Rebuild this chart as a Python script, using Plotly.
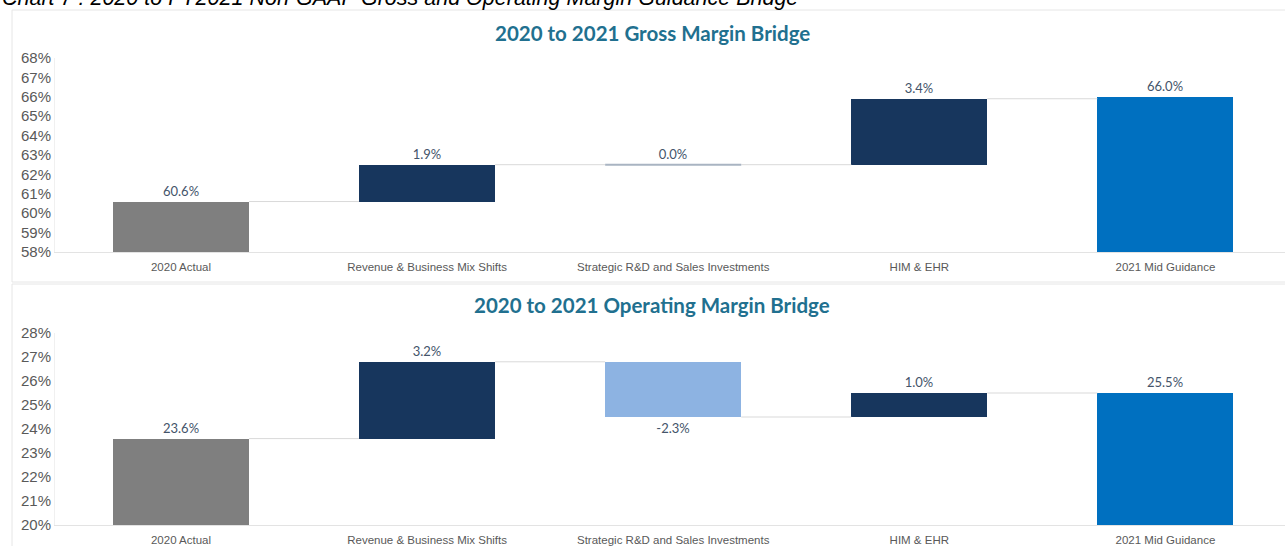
import plotly.graph_objects as go

# ---- data ----
categories = ["2020 Actual", "Revenue & Business Mix Shifts",
              "Strategic R&D and Sales Investments", "HIM & EHR", "2021 Mid Guidance"]
measures = ["absolute", "relative", "relative", "relative", "total"]
gross_values = [60.6, 1.9, 0.0, 3.4, 66.0]
operating_values = [23.6, 3.2, -2.3, 1.0, 25.5]
gross_ticks = [58, 59, 60, 61, 62, 63, 64, 65, 66, 67, 68]
operating_ticks = [20, 21, 22, 23, 24, 25, 26, 27, 28]
gross_title = "2020 to 2021 Gross Margin Bridge"
operating_title = "2020 to 2021 Operating Margin Bridge"
caption = "Chart 7 : 2020 to FY2021 Non-GAAP Gross and Operating Margin Guidance Bridge"

# ---- style ----
W, H = 1285, 546
C_START = "#7F7F7F"
C_UP = "#17365D"
C_DOWN = "#8DB3E2"
C_END = "#0070C0"
C_ZERO = "#A9B4C2"
C_CONN = "#D9D9D9"
LABEL_COLOR = "#44546A"
TICK_COLOR = "#595959"
TITLE_COLOR = "#21708F"
BAR_W = 0.553


def px_y(p):
    return 1 - p / H


def px_x(p):
    return p / W


def build(values, xa, ya):
    traces = []
    bases, heights, colors, texts = [], [], [], []
    level = 0.0
    levels = []
    for m, v in zip(measures, values):
        if m == "absolute":
            bases.append(0)
            colors.append(C_START)
            level = v
        elif m == "relative":
            bases.append(level)
            colors.append(C_UP if v > 0 else C_DOWN)
            level = level + v
        else:
            bases.append(0)
            colors.append(C_END)
            level = v
        heights.append(v)
        texts.append(f"{v:.1f}%")
        levels.append(level)
    xs = list(range(len(values)))
    traces.append(go.Bar(
        x=xs, y=heights, base=bases, width=BAR_W,
        marker=dict(color=colors, line=dict(width=0)),
        text=texts, textposition="outside", cliponaxis=False,
        textfont=dict(family="Lato", size=13, color=LABEL_COLOR),
        xaxis=xa, yaxis=ya, hoverinfo="skip", showlegend=False,
    ))
    # connectors
    cx, cy = [], []
    for i in range(len(values) - 1):
        cx += [i + BAR_W / 2, i + 1 - BAR_W / 2, None]
        cy += [levels[i], levels[i], None]
    traces.append(go.Scatter(x=cx, y=cy, mode="lines",
                             line=dict(color=C_CONN, width=1),
                             xaxis=xa, yaxis=ya, hoverinfo="skip", showlegend=False))
    # zero-height deltas drawn as a thin line
    zx, zy = [], []
    for i, (m, v) in enumerate(zip(measures, values)):
        if m == "relative" and v == 0:
            zx += [i - BAR_W / 2, i + BAR_W / 2, None]
            zy += [levels[i], levels[i], None]
    if zx:
        traces.append(go.Scatter(x=zx, y=zy, mode="lines",
                                 line=dict(color=C_ZERO, width=2),
                                 xaxis=xa, yaxis=ya, hoverinfo="skip", showlegend=False))
    return traces


fig = go.Figure()
for t in build(gross_values, "x", "y"):
    fig.add_trace(t)
for t in build(operating_values, "x2", "y2"):
    fig.add_trace(t)

xrange = [-0.512, 4.486]
xdom = [px_x(55), 1]
common_x = dict(range=xrange, domain=xdom, tickmode="array",
                tickvals=list(range(len(categories))), ticktext=categories,
                showgrid=False, zeroline=False, showline=True, linecolor="#E3E3E3",
                linewidth=1, ticks="", fixedrange=True, automargin=False,
                ticklabelstandoff=4,
                tickfont=dict(family="Liberation Sans", size=11.5, color=TICK_COLOR))
common_y = dict(showgrid=False, zeroline=False, showline=True, linecolor="#F0F0F0",
                ticks="", automargin=False,
                tickfont=dict(family="Liberation Sans", size=15, color=TICK_COLOR),
                tickmode="array")

fig.update_layout(
    width=W, height=H, margin=dict(l=0, r=0, t=0, b=0, autoexpand=False),
    template="none",
    paper_bgcolor="white", plot_bgcolor="white", bargap=0,
    xaxis=dict(anchor="y", **common_x),
    yaxis=dict(anchor="x", range=[58, 68], tickvals=gross_ticks,
               ticktext=[f"{t}%" for t in gross_ticks],
               domain=[px_y(252), px_y(58)], **common_y),
    xaxis2=dict(anchor="y2", **common_x),
    yaxis2=dict(anchor="x2", range=[20, 28], tickvals=operating_ticks,
                ticktext=[f"{t}%" for t in operating_ticks],
                domain=[px_y(525), px_y(333)], **common_y),
    shapes=[
        dict(type="rect", xref="paper", yref="paper", x0=px_x(12), x1=1.01,
             y0=px_y(282), y1=px_y(10), line=dict(color="#E6E6E6", width=1),
             fillcolor="rgba(0,0,0,0)", layer="below"),
        dict(type="rect", xref="paper", yref="paper", x0=px_x(12), x1=1.01,
             y0=-0.01, y1=px_y(284), line=dict(color="#E6E6E6", width=1),
             fillcolor="rgba(0,0,0,0)", layer="below"),
    ],
    annotations=[
        dict(text=gross_title, xref="paper", yref="paper", x=px_x(652), y=px_y(33),
             xanchor="center", yanchor="middle", showarrow=False,
             font=dict(family="Lato", size=20.5, color=TITLE_COLOR, weight="bold")),
        dict(text=operating_title, xref="paper", yref="paper", x=px_x(652), y=px_y(305),
             xanchor="center", yanchor="middle", showarrow=False,
             font=dict(family="Lato", size=20.5, color=TITLE_COLOR, weight="bold")),
        dict(text="<i>" + caption + "</i>", xref="paper", yref="paper", x=0, y=px_y(-2),
             xanchor="left", yanchor="middle", showarrow=False,
             font=dict(family="Liberation Sans", size=21.5, color="#000000")),
    ],
)

fig.write_html("out.html")
